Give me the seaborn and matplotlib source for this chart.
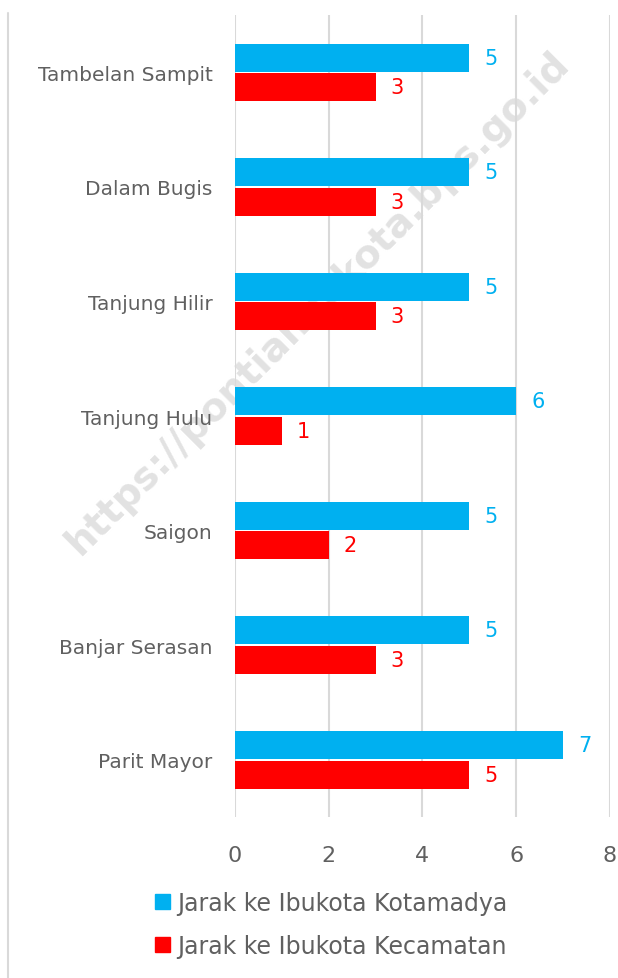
import seaborn as sns
import pandas as pd
import matplotlib.pyplot as plt
from matplotlib.lines import Line2D
from matplotlib.patches import Patch

desa = ["Tambelan Sampit", "Dalam Bugis", "Tanjung Hilir", "Tanjung Hulu",
        "Saigon", "Banjar Serasan", "Parit Mayor"]
kotamadya = [5, 5, 5, 6, 5, 5, 7]
kecamatan = [3, 3, 3, 1, 2, 3, 5]
seri = ["Jarak ke Ibukota Kotamadya", "Jarak ke Ibukota Kecamatan"]
warna = ["#00B0F0", "#FF0000"]

df = pd.DataFrame({
    "desa": desa * 2,
    "jarak": kotamadya + kecamatan,
    "jenis": [seri[0]] * len(desa) + [seri[1]] * len(desa),
})

sns.set_style("white")
plt.rcParams["font.family"] = ["DejaVu Sans"]
grey = "#606060"

fig = plt.figure(figsize=(6.18, 9.79), dpi=100)

# watermark sits behind the chart
fig.text(0.515, 0.69, "https://pontianakkota.bps.go.id", rotation=45,
         ha="center", va="center", fontsize=28, fontweight="bold",
         color="#e2e2e2", zorder=-5)

ax = fig.add_axes([0.380, 0.1645, 0.607, 0.819])
ax.patch.set_alpha(0)

sns.barplot(data=df, y="desa", x="jarak", hue="jenis", orient="h",
            palette=warna, saturation=1, width=0.52, gap=0.06, linewidth=0,
            ax=ax, legend=False)

for cont, c in zip(ax.containers, warna):
    ax.bar_label(cont, padding=11, color=c, fontsize=15)

ax.set_xlim(0, 8)
ax.set_xticks([0, 2, 4, 6, 8])
ax.set_xlabel("")
ax.set_ylabel("")
ax.grid(axis="x", color="#d9d9d9", linewidth=1.5)
ax.set_axisbelow(True)
for s in ax.spines.values():
    s.set_visible(False)
ax.tick_params(axis="x", length=0, pad=20, labelsize=16, labelcolor=grey)
ax.tick_params(axis="y", length=0, pad=16, labelsize=14.5, labelcolor=grey)

handles = [Patch(color=c) for c in warna]
fig.legend(handles, seri, loc="center", bbox_to_anchor=(0.536, 0.055),
           ncol=1, frameon=False, fontsize=17, labelcolor=grey,
           handlelength=0.6, handleheight=0.6, handletextpad=0.3,
           labelspacing=0.8)

fig.add_artist(Line2D([8 / 618, 8 / 618], [0, 1 - 14 / 979],
                      color="#d9d9d9", linewidth=1.5))

plt.savefig("out.png", dpi=100)
